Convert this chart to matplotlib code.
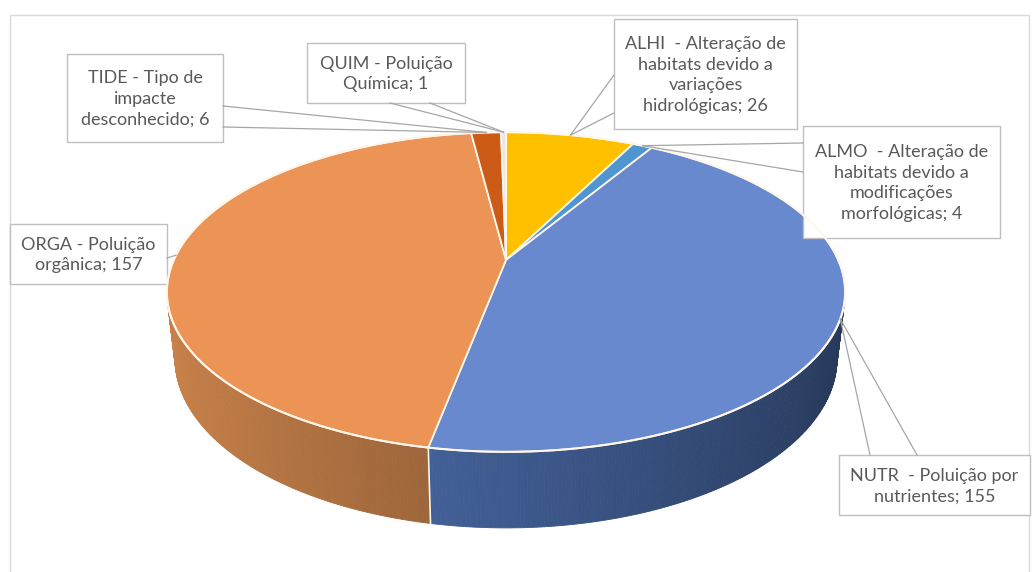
import numpy as np
import matplotlib.pyplot as plt
from matplotlib.patches import Polygon, Rectangle
from matplotlib.colors import to_rgb

# dados
codigos = ["ALHI", "ALMO", "NUTR", "ORGA", "TIDE", "QUIM"]
descricoes = [
    "ALHI  - Alteração de\nhabitats devido a\nvariações\nhidrológicas",
    "ALMO  - Alteração de\nhabitats devido a\nmodificações\nmorfológicas",
    "NUTR  - Poluição por\nnutrientes",
    "ORGA - Poluição\norgânica",
    "TIDE - Tipo de\nimpacte\ndesconhecido",
    "QUIM - Poluição\nQuímica",
]
valores = [26, 4, 155, 157, 6, 1]

cores_topo = ["#FFC000", "#4E95D2", "#6889CD", "#EC9456", "#CB5B17", "#E6E6E6"]
cores_lado = ["#D9A300", "#447FB4", "#557CC4", "#CB834B", "#A84C12", "#C4C4C4"]

# caixas dos rotulos (x0, y0, x1, y1) em pixels e pontos de saida das linhas
caixas = [
    (614, 19, 797, 129),
    (803, 126, 1000, 238),
    (839, 455, 1030, 515),
    (10, 224, 167, 284),
    (67, 54, 223, 142),
    (307, 43, 465, 103),
]
saidas = [
    [(614, 75), (614, 113)],
    [(803, 143), (803, 172)],
    [(870, 455), (917, 455)],
    [(167, 258)],
    [(223, 106), (223, 127)],
    [(390, 103), (430, 103)],
]

# geometria da pizza 3D (perspectiva)
cx, cy = 506, 260
phi = np.radians(27.5)
D = 4.43
F = 1472
h = 0.228


def proj(th, z, r=1.0):
    X = r * np.cos(th)
    Y = r * np.sin(th)
    den = D + Y * np.cos(phi) - z * np.sin(phi)
    sx = F * X / den
    sy = F * (Y * np.sin(phi) + z * np.cos(phi)) / den
    return cx + sx, cy - sy


fig = plt.figure(figsize=(10.35, 5.72), dpi=100)
ax = fig.add_axes([0, 0, 1, 1])
ax.set_xlim(0, 1035)
ax.set_ylim(572, 0)
ax.axis("off")

ax.add_patch(Rectangle((10, 15), 1019, 600, fill=False, ec="#D9D9D9", lw=1))

total = sum(valores)
cum = np.concatenate([[0], np.cumsum(valores)])
ini = np.pi / 2 - 2 * np.pi * cum[:-1] / total
fim = np.pi / 2 - 2 * np.pi * cum[1:] / total

# lados
quads = []
for i in range(len(valores)):
    n = max(4, int(abs(fim[i] - ini[i]) * 120))
    ts = np.linspace(ini[i], fim[i], n + 1)
    base = np.array(to_rgb(cores_lado[i]))
    for a, b in zip(ts[:-1], ts[1:]):
        m = (a + b) / 2
        if np.sin(m) > 0.15:
            continue
        t = (1 + np.cos(m)) / 2
        cor = np.clip(base * (1 - 0.55 * t), 0, 1)
        pts = [proj(a, 0), proj(b, 0), proj(b, -h), proj(a, -h)]
        quads.append((np.sin(m), pts, cor))
quads.sort(key=lambda q: -q[0])
for _, pts, cor in quads:
    ax.add_patch(Polygon(pts, closed=True, fc=cor, ec=cor, lw=0.6))

# linhas verticais nas divisões da frente
for a in ini:
    if np.sin(a) < -0.2:
        x0, y0 = proj(a, 0)
        x1, y1 = proj(a, -h)
        ax.plot([x0, x1], [y0, y1], color="#FFF6EA", lw=1.2)

# topo
for i in range(len(valores)):
    n = max(4, int(abs(fim[i] - ini[i]) * 120))
    ts = np.linspace(ini[i], fim[i], n + 1)
    pts = [(cx, cy)] + [proj(t, 0) for t in ts]
    ax.add_patch(Polygon(pts, closed=True, fc=cores_topo[i], ec="#FFF6EA", lw=1.3))

aro = np.linspace(0, 2 * np.pi, 400)
xa, ya = zip(*[proj(t, 0) for t in aro])
ax.plot(xa, ya, color="#FFF6EA", lw=1.5)

# rotulos
for i in range(len(valores)):
    x0, y0, x1, y1 = caixas[i]
    meio = (ini[i] + fim[i]) / 2
    ax_, ay_ = proj(meio, 0, 1.0)
    for sx, sy in saidas[i]:
        ax.plot([sx, ax_], [sy, ay_], color="#A6A6A6", lw=0.9)
    ax.add_patch(Rectangle((x0, y0), x1 - x0, y1 - y0, fc="white", ec="#BFBFBF", lw=1))
    ax.text((x0 + x1) / 2, (y0 + y1) / 2 + 1, f"{descricoes[i]}; {valores[i]}",
            ha="center", va="center", fontsize=13, family="Lato",
            color="#595959", linespacing=1.35)

plt.savefig("out.png", dpi=100)
